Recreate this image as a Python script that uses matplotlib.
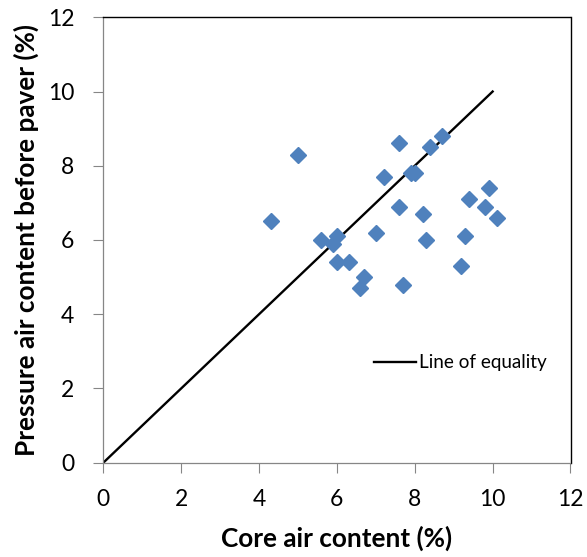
import matplotlib.pyplot as plt

# core air content (%) vs pressure air content before paver (%)
core_air = [5.0, 4.3, 7.6, 8.4, 8.7, 7.2, 7.9, 8.0, 9.9, 9.4, 9.8, 10.1, 7.6,
            8.2, 7.0, 5.6, 6.0, 5.9, 8.3, 9.3, 6.0, 6.3, 6.7, 6.6, 7.7, 9.2]
pressure_air = [8.3, 6.5, 8.6, 8.5, 8.8, 7.7, 7.8, 7.8, 7.4, 7.1, 6.9, 6.6, 6.9,
                6.7, 6.2, 6.0, 6.1, 5.9, 6.0, 6.1, 5.4, 5.4, 5.0, 4.7, 4.8, 5.3]

equality_x = [0, 10]
equality_y = [0, 10]

ticks = [0, 2, 4, 6, 8, 10, 12]

plt.rcParams['font.family'] = ['Lato', 'DejaVu Sans']

W, H = 587, 557
fig = plt.figure(figsize=(W / 100, H / 100), dpi=100)
left, right, top, bottom = 103.3, 570.5, 17.3, 462.7
ax = fig.add_axes([left / W, 1 - bottom / H, (right - left) / W, (bottom - top) / H])

ax.plot(core_air, pressure_air, ls='none', marker='D', ms=8.2,
        color='#4F81BD', mec='#4F81BD', zorder=3)
ax.plot(equality_x, equality_y, color='black', lw=1.7, label='Line of equality', zorder=2)

ax.set_xlim(0, 12)
ax.set_ylim(0, 12)
ax.set_xticks(ticks)
ax.set_yticks(ticks)
ax.tick_params(axis='both', direction='out', length=7, width=0.8, color='#868686',
               labelsize=16.5)
ax.tick_params(axis='x', pad=12)
ax.tick_params(axis='y', pad=14)

for side in ['left', 'bottom']:
    ax.spines[side].set_color('#868686')
    ax.spines[side].set_linewidth(0.9)
for side in ['top', 'right']:
    ax.spines[side].set_color('black')
    ax.spines[side].set_linewidth(1.0)

ax.set_xlabel('Core air content (%)', fontsize=18.8, fontweight='bold', labelpad=11)
ax.set_ylabel('Pressure air content before paver (%)', fontsize=18.8, fontweight='bold',
              labelpad=6)

ax.legend(loc='center left', bbox_to_anchor=(357 / W, 1 - 362.7 / H),
          bbox_transform=fig.transFigure, frameon=False, fontsize=13.6,
          handlelength=2.2, handletextpad=0.2)

fig.savefig('out.png', dpi=100)
